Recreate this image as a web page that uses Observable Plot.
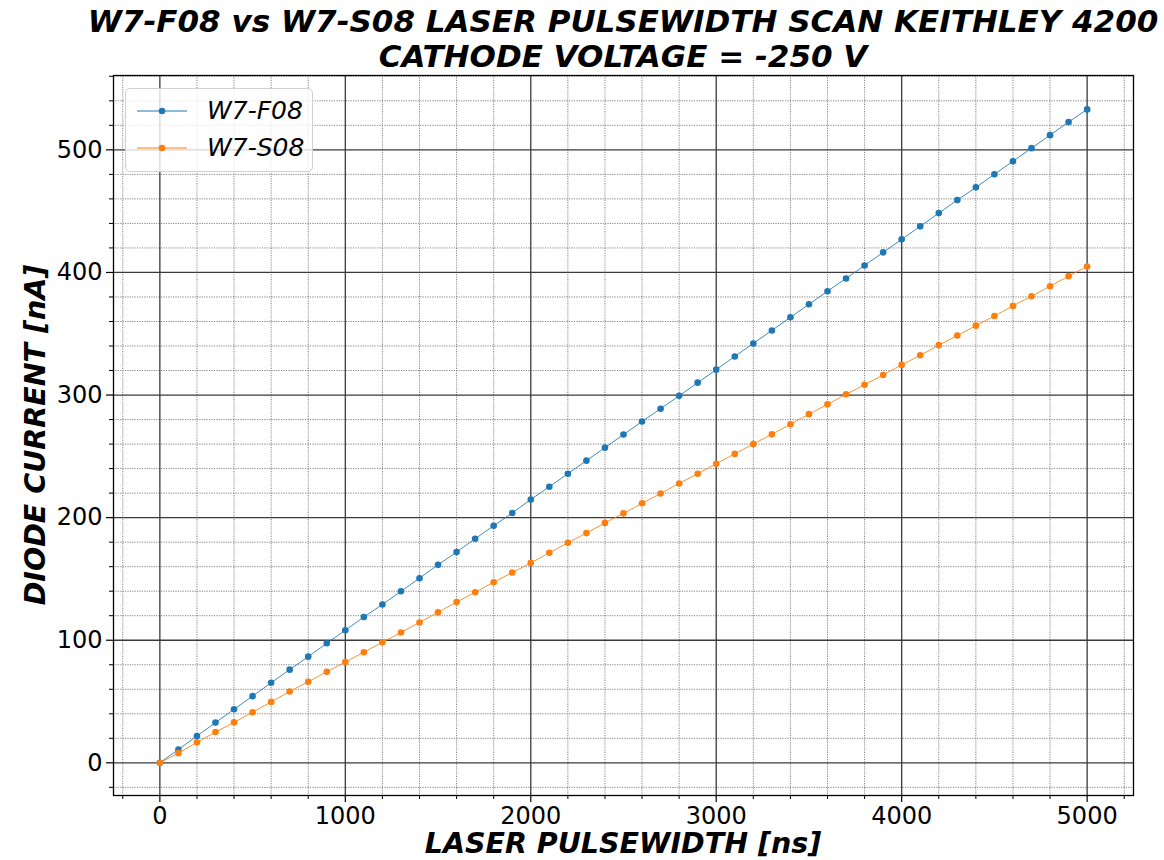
<!DOCTYPE html>
<html>
<head>
<meta charset="utf-8">
<script src="https://cdn.jsdelivr.net/npm/d3@7"></script>
<script src="https://cdn.jsdelivr.net/npm/@observablehq/plot@0.6"></script>
<style>
  html, body { margin: 0; padding: 0; background: #fff; }
  #wrap { position: relative; width: 1164px; height: 860px; font-family: "DejaVu Sans", sans-serif; overflow: hidden; }
  .title { position: absolute; left: 623px; transform: translateX(-50%); white-space: nowrap;
           font-weight: bold; font-style: italic; font-size: 31px; line-height: 35px; text-align: center; color: #000; }
  .xlabel { position: absolute; left: 623px; top: 828px; transform: translateX(-50%); white-space: nowrap;
            font-weight: bold; font-style: italic; font-size: 28.5px; line-height: 32px; color: #000; }
  .ylabel { position: absolute; left: 36px; top: 435px; transform: translate(-50%, -50%) rotate(-90deg); white-space: nowrap;
            font-weight: bold; font-style: italic; font-size: 28.5px; line-height: 32px; color: #000; }
  .legend { position: absolute; left: 125px; top: 88px; width: 188px; height: 84px; box-sizing: border-box;
            border: 1px solid #d0d0d0; border-radius: 5px; background: rgba(255,255,255,0.8); }
  .legend .row { position: absolute; left: 11px; display: flex; align-items: center; font-style: italic; font-size: 25px; }
  .legend svg { margin-right: 20px; }
</style>
</head>
<body>
<div id="wrap">
  <div class="title" style="top:4px">W7-F08 vs W7-S08 LASER PULSEWIDTH SCAN KEITHLEY 4200<br>CATHODE VOLTAGE = -250 V</div>
  <div id="chart"></div>
  <div class="xlabel">LASER PULSEWIDTH [ns]</div>
  <div class="ylabel">DIODE CURRENT [nA]</div>
  <div class="legend" id="legend"></div>
</div>
<script>
// Laser pulse width settings [ns]
const pulsewidth = [
  0, 100, 200, 300, 400, 500, 600, 700, 800, 900,
  1000, 1100, 1200, 1300, 1400, 1500, 1600, 1700, 1800, 1900,
  2000, 2100, 2200, 2300, 2400, 2500, 2600, 2700, 2800, 2900,
  3000, 3100, 3200, 3300, 3400, 3500, 3600, 3700, 3800, 3900,
  4000, 4100, 4200, 4300, 4400, 4500, 4600, 4700, 4800, 4900, 5000
];

// Diode current [nA], device W7-F08
const currentF08 = [
  0, 10.9, 21.9, 32.8, 43.7, 54.4, 65.3, 76.0, 86.6, 97.5,
  108.2, 118.9, 129.2, 139.9, 150.6, 161.5, 171.9, 182.8, 193.4, 203.8,
  214.8, 225.2, 235.8, 246.5, 257.1, 267.8, 278.4, 288.8, 299.4, 310.1,
  320.7, 331.5, 342.1, 352.7, 363.4, 374.0, 384.7, 395.1, 405.7, 416.4,
  427.0, 437.6, 448.4, 459.0, 469.4, 480.1, 490.7, 501.4, 512.0, 522.7, 533.0
];

// Diode current [nA], device W7-S08
const currentS08 = [
  0, 7.9, 16.7, 25.1, 33.0, 41.3, 49.7, 58.2, 66.1, 74.3,
  82.2, 90.2, 98.4, 106.3, 114.5, 122.8, 131.1, 139.1, 147.3, 155.2,
  163.1, 171.3, 179.5, 187.4, 195.7, 203.5, 211.7, 219.7, 227.9, 235.8,
  244.0, 252.0, 260.1, 268.0, 276.2, 284.4, 292.4, 300.6, 308.4, 316.4,
  324.6, 332.4, 340.7, 348.6, 356.6, 364.5, 372.7, 380.6, 388.8, 397.0, 404.9
];

const seriesNames = ["W7-F08", "W7-S08"];
const seriesColors = ["#1f77b4", "#ff7f0e"];

// Tick positions
const xTicks = [0, 1000, 2000, 3000, 4000, 5000];
const yTicks = [0, 100, 200, 300, 400, 500];
const xMinor = d3.range(-200, 5201, 200).filter(v => !xTicks.includes(v));
const yMinor = d3.range(-20, 561, 20).filter(v => !yTicks.includes(v));

const xDomain = [-250, 5250];
const yDomain = [-26.65, 560.65];

const rows = [];
pulsewidth.forEach((t, i) => {
  rows.push({t, i: currentF08[i], s: seriesNames[0]});
  rows.push({t, i: currentS08[i], s: seriesNames[1]});
});

const chart = Plot.plot({
  width: 1164,
  height: 860,
  marginLeft: 113,
  marginRight: 31,
  marginTop: 75,
  marginBottom: 65,
  style: {fontFamily: "DejaVu Sans, sans-serif", fontSize: "24px", color: "#000", background: "transparent"},
  x: {domain: xDomain, label: null},
  y: {domain: yDomain, label: null},
  color: {domain: seriesNames, range: seriesColors},
  marks: [
    // minor grid
    Plot.ruleX(xMinor, {stroke: "#777", strokeWidth: 1, strokeDasharray: "1.2,1.2", strokeOpacity: 0.9}),
    Plot.ruleY(yMinor, {stroke: "#777", strokeWidth: 1, strokeDasharray: "1.2,1.2", strokeOpacity: 0.9}),
    // major grid
    Plot.ruleX(xTicks, {stroke: "#3a3a3a", strokeWidth: 1.3}),
    Plot.ruleY(yTicks, {stroke: "#3a3a3a", strokeWidth: 1.3}),
    // axes with major and minor ticks
    Plot.axisX(xTicks, {tickSize: 7, tickPadding: 4, fontSize: 24, strokeWidth: 1.2, tickFormat: d3.format("d")}),
    Plot.axisX(xMinor, {tickSize: 4, tickFormat: () => "", strokeWidth: 1}),
    Plot.axisY(yTicks, {tickSize: 7, tickPadding: 4, fontSize: 24, strokeWidth: 1.2, tickFormat: d3.format("d")}),
    Plot.axisY(yMinor, {tickSize: 4, tickFormat: () => "", strokeWidth: 1}),
    // series
    Plot.line(rows, {x: "t", y: "i", z: "s", stroke: "s", strokeWidth: 1, strokeOpacity: 0.85}),
    Plot.dot(rows, {x: "t", y: "i", fill: "s", r: 3.3}),
    Plot.frame({stroke: "#000", strokeWidth: 1.3})
  ]
});
document.getElementById("chart").appendChild(chart);

// legend
const legend = document.getElementById("legend");
seriesNames.forEach((name, k) => {
  const row = document.createElement("div");
  row.className = "row";
  row.style.top = (k === 0 ? 7 : 44) + "px";
  row.innerHTML = `<svg width="50" height="12"><line x1="0" x2="50" y1="6" y2="6" stroke="${seriesColors[k]}" stroke-width="1"/><circle cx="25" cy="6" r="3.3" fill="${seriesColors[k]}"/></svg><span>${name}</span>`;
  legend.appendChild(row);
});
</script>
</body>
</html>
